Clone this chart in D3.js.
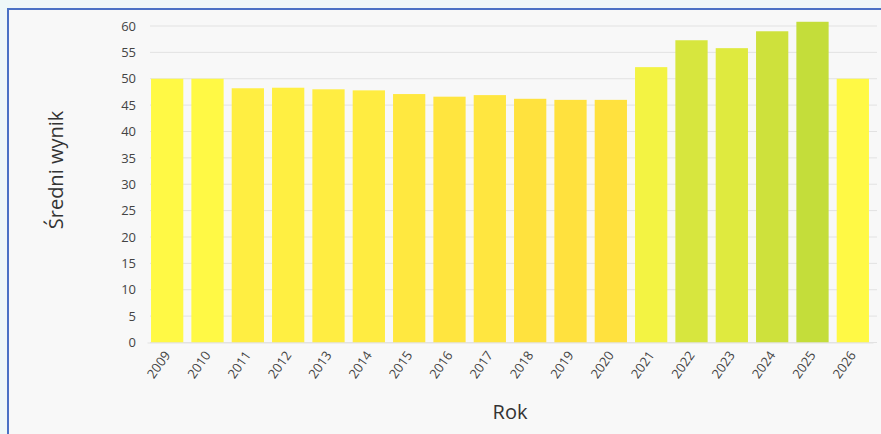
<!DOCTYPE html>
<html>
<head>
<meta charset="utf-8">
<script src="https://cdn.jsdelivr.net/npm/d3@7"></script>
<style>
  body { margin: 0; background: #eef8f8; }
  svg { display: block; }
  .tick text { font-family: "Open Sans", sans-serif; fill: #444; }
</style>
</head>
<body>
<svg id="chart" width="881" height="434"></svg>
<script>
// data
const years = ["2009","2010","2011","2012","2013","2014","2015","2016","2017",
               "2018","2019","2020","2021","2022","2023","2024","2025","2026"];
const scores = [50.0, 50.0, 48.2, 48.3, 48.0, 47.8, 47.1, 46.6, 46.9,
                46.2, 46.0, 46.0, 52.2, 57.3, 55.8, 59.0, 60.8, 50.0];
const yTicks = [0,5,10,15,20,25,30,35,40,45,50,55,60];

const svg = d3.select('#chart');

// panel with blue frame
svg.append('rect')
  .attr('x', 8).attr('y', 9)
  .attr('width', 890).attr('height', 440)
  .attr('fill', '#f8f8f8')
  .attr('stroke', '#4a72c4')
  .attr('stroke-width', 2);

const x = d3.scaleBand()
  .domain(years)
  .range([147, 873])
  .paddingInner(0.2)
  .paddingOuter(0.1);

const y = d3.scaleLinear()
  .domain([0, 60])
  .range([342.5, 26]);

const color = d3.scaleLinear()
  .domain([46, 50, 61])
  .range(["#ffe13e", "#fff945", "#c3dc3a"]);

// grid
svg.append('g')
  .selectAll('line')
  .data(yTicks)
  .enter()
  .append('line')
  .attr('x1', 150).attr('x2', 877)
  .attr('y1', d => y(d)).attr('y2', d => y(d))
  .attr('stroke', '#e2e2e2')
  .attr('stroke-width', 1);

// y axis
const yAxis = svg.append('g')
  .attr('transform', 'translate(140,0)')
  .call(d3.axisLeft(y).tickValues(yTicks).tickSize(0).tickPadding(4));
yAxis.select('.domain').remove();
yAxis.selectAll('text').style('font-size', '13px');

// bars
svg.append('g')
  .selectAll('rect.bar')
  .data(years)
  .enter()
  .append('rect')
  .classed('bar', true)
  .attr('x', d => x(d))
  .attr('width', x.bandwidth())
  .attr('y', (d, i) => y(scores[i]))
  .attr('height', (d, i) => y(0) - y(scores[i]))
  .attr('fill', (d, i) => color(scores[i]));

// x axis
const xAxis = svg.append('g')
  .attr('transform', `translate(0,${y(0)})`)
  .call(d3.axisBottom(x).tickSize(0).tickPadding(8));
xAxis.select('.domain').attr('stroke', '#e2e2e2');
xAxis.selectAll('text')
  .style('font-size', '13px')
  .attr('text-anchor', 'end')
  .attr('x', 0).attr('y', 0)
  .attr('dx', 0)
  .attr('dy', '0.35em')
  .attr('transform', 'translate(0,10) rotate(-55)');

// axis titles
svg.append('text')
  .attr('x', 510).attr('y', 419)
  .attr('text-anchor', 'middle')
  .style('font-family', '"Open Sans", sans-serif')
  .style('font-size', '20px')
  .attr('fill', '#333')
  .text('Rok');

svg.append('text')
  .attr('transform', 'translate(63,170) rotate(-90)')
  .attr('text-anchor', 'middle')
  .style('font-family', '"Open Sans", sans-serif')
  .style('font-size', '20px')
  .attr('fill', '#333')
  .text('Średni wynik');
</script>
</body>
</html>
